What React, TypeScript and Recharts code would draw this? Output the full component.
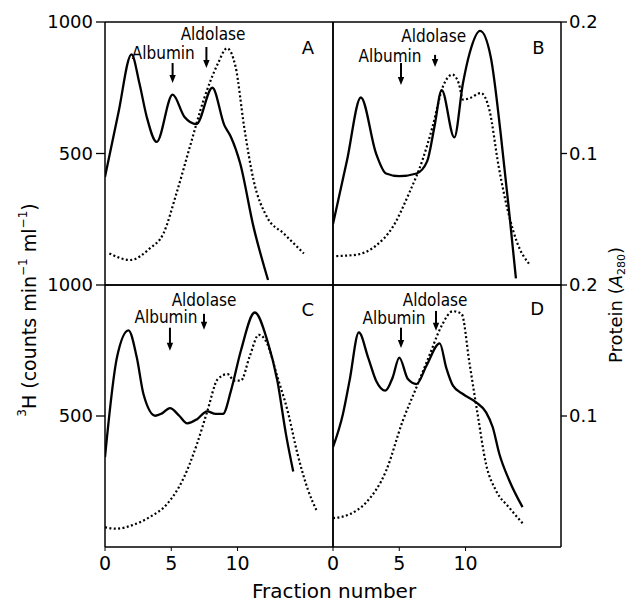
import React from 'react';
import { LineChart, Line, XAxis, YAxis, ReferenceLine, ReferenceDot } from 'recharts';

// ---- tick labels ----
const fractionTicks = [0, 5, 10];
const countTicks = [500, 1000];
const proteinTicks = [0.1, 0.2];

// ---- 3H counts (solid line, left axis) : [fraction, counts] ----
const countsA = [[0, 411], [1, 652], [2, 877], [2.6, 766], [3.15, 639], [3.9, 544], [5.1, 724], [6, 639], [6.9, 612], [8.1, 750], [9, 608], [9.5, 563], [10.2, 462], [11.2, 222], [12.3, 19]];
const countsB = [[0, 232], [1.05, 472], [2.1, 713], [3.25, 500], [4.0, 424], [5.0, 414], [6.3, 424], [7.1, 470], [7.65, 601], [8.2, 741], [9.15, 561], [9.8, 766], [10.3, 880], [11.1, 966], [11.9, 867], [12.65, 576], [13.3, 272], [13.8, 25]];
const countsC = [[0, 343], [0.9, 723], [1.77, 827], [2.4, 723], [2.9, 584], [3.8, 501], [4.3, 510], [4.9, 530], [5.6, 501], [6.2, 472], [6.95, 488], [7.7, 518], [8.35, 508], [8.9, 508], [9.5, 596], [10.25, 749], [11.3, 895], [12.25, 787], [13.0, 635], [13.65, 431], [14.2, 288]];
const countsD = [[0, 381], [0.75, 508], [1.25, 635], [1.95, 819], [2.65, 723], [3.25, 635], [3.95, 597], [4.5, 647], [5.0, 723], [5.65, 641], [6.3, 622], [7.05, 692], [8.05, 777], [8.55, 683], [9.05, 616], [9.8, 584], [10.8, 552], [11.55, 514], [12.05, 457], [12.55, 355], [13.3, 254], [14.3, 152]];

// ---- protein A280 (dotted line, right axis) : [fraction, absorbance] ----
const proteinA = [[0.33, 0.024], [1.9, 0.019], [3.4, 0.028], [4.4, 0.039], [5.4, 0.070], [6.4, 0.105], [7.45, 0.141], [8.5, 0.168], [9.2, 0.180], [9.85, 0.166], [10.5, 0.120], [11.2, 0.080], [12.2, 0.052], [13.5, 0.039], [15.0, 0.024]];
const proteinB = [[0.25, 0.022], [1.75, 0.023], [3.25, 0.030], [4.5, 0.044], [5.75, 0.070], [6.75, 0.095], [7.5, 0.120], [8.3, 0.151], [9.0, 0.160], [9.5, 0.153], [9.8, 0.141], [10.3, 0.142], [11.15, 0.146], [11.8, 0.133], [12.5, 0.090], [13.3, 0.052], [13.9, 0.032], [14.8, 0.016]];
const proteinC = [[0, 0.015], [0.9, 0.014], [2.15, 0.017], [3.4, 0.023], [4.7, 0.033], [5.95, 0.053], [6.95, 0.079], [7.7, 0.103], [8.5, 0.128], [9.25, 0.132], [9.75, 0.127], [10.25, 0.127], [10.9, 0.145], [11.6, 0.162], [12.25, 0.155], [13.0, 0.130], [13.8, 0.103], [14.5, 0.072], [15.3, 0.044], [16.0, 0.027]];
const proteinD = [[0, 0.022], [1.25, 0.025], [2.5, 0.034], [4.0, 0.058], [5.25, 0.096], [6.3, 0.122], [7.3, 0.147], [8.15, 0.168], [9.05, 0.180], [9.7, 0.178], [10.3, 0.140], [10.9, 0.102], [11.55, 0.063], [12.3, 0.043], [13.3, 0.030], [14.4, 0.017]];

// ---- marker annotations (arrow x, arrow top/bottom in counts, label x / baseline in counts) ----
const markersA = [
  { name: 'Albumin', x: 5.1, top: 844, bottom: 768, tx: 4.4, ty: 859 },
  { name: 'Aldolase', x: 7.65, top: 905, bottom: 825, tx: 8.15, ty: 932 },
];
const markersB = [
  { name: 'Albumin', x: 5.13, top: 844, bottom: 760, tx: 4.3, ty: 848 },
  { name: 'Aldolase', x: 7.7, top: 875, bottom: 829, tx: 7.6, ty: 924 },
];
const markersC = [
  { name: 'Albumin', x: 4.9, top: 837, bottom: 749, tx: 4.6, ty: 855 },
  { name: 'Aldolase', x: 7.47, top: 890, bottom: 829, tx: 7.47, ty: 920 },
];
const markersD = [
  { name: 'Albumin', x: 5.13, top: 837, bottom: 760, tx: 4.6, ty: 852 },
  { name: 'Aldolase', x: 7.77, top: 901, bottom: 825, tx: 7.7, ty: 920 },
];

const panelLetters = ['A', 'B', 'C', 'D'];
const letterPos = [[15.3, 878], [15.5, 878], [15.3, 882], [15.4, 885]];

const toPts = (arr: number[][]) => arr.map(([f, v]) => ({ f, v }));

const W = 630;
const H = 603;
const AXW = 40;
const AXH = 30;
const TICK_FONT = 'DejaVu Sans, sans-serif';
const ANN_FONT = 'DejaVu Sans Condensed, Liberation Sans Narrow, Liberation Sans, sans-serif';

const Arrow = (p: any) => {
  const { x1, y1, x2, y2 } = p;
  const head = 8;
  const hw = 3.2;
  return (
    <g>
      <line x1={x1} y1={y1} x2={x2} y2={y2 - head + 1} stroke="#000" strokeWidth={2} />
      <path d={`M${x2 - hw},${y2 - head} L${x2 + hw},${y2 - head} L${x2},${y2} Z`} fill="#000" />
    </g>
  );
};

const textShape = (text: string, size: number, font: string) => (p: any) => (
  <text x={p.cx} y={p.cy} textAnchor="middle" fontSize={size} fontFamily={font} fill="#000">
    {text}
  </text>
);

type PanelProps = {
  idx: number;
  left: number;
  right: number;
  top: number;
  bottom: number;
  counts: number[][];
  protein: number[][];
  markers: { name: string; x: number; top: number; bottom: number; tx: number; ty: number }[];
  showLeft: boolean;
  showRight: boolean;
  showX: boolean;
};

const Panel = (pp: PanelProps) => {
  const margin = {
    left: pp.left - AXW,
    right: W - pp.right - AXW,
    top: pp.top,
    bottom: H - pp.bottom - AXH,
  };
  const axisStroke = { stroke: '#000', strokeWidth: 1.5 };
  const tickStyle = { fill: '#000', fontSize: 18, fontFamily: TICK_FONT };
  return (
    <div style={{ position: 'absolute', left: 0, top: 0 }}>
      <LineChart width={W} height={H} margin={margin}>
        <XAxis
          dataKey="f"
          type="number"
          domain={[0, 17.2]}
          allowDataOverflow
          ticks={fractionTicks}
          height={AXH}
          axisLine={axisStroke}
          tickLine={pp.showX ? { stroke: '#000' } : false}
          tickSize={4}
          tickMargin={6}
          tick={pp.showX ? { ...tickStyle, fontSize: 19 } : false}
        />
        <YAxis
          yAxisId="left"
          orientation="left"
          domain={[0, 1000]}
          allowDataOverflow
          ticks={pp.showLeft ? countTicks : []}
          width={AXW}
          axisLine={axisStroke}
          tickLine={pp.showLeft ? { stroke: '#000', strokeWidth: 1.3 } : false}
          tickSize={9}
          tickMargin={3}
          tick={pp.showLeft ? tickStyle : false}
        />
        <YAxis
          yAxisId="right"
          orientation="right"
          domain={[0, 0.2]}
          allowDataOverflow
          ticks={pp.showRight ? proteinTicks : []}
          width={AXW}
          axisLine={axisStroke}
          tickLine={pp.showRight ? { stroke: '#000', strokeWidth: 1.3 } : false}
          tickSize={6}
          tickMargin={2}
          tick={pp.showRight ? tickStyle : false}
          tickFormatter={(v: number) => v.toFixed(1)}
        />
        <ReferenceLine yAxisId="left" y={1000} stroke="#000" strokeWidth={1.5} ifOverflow="visible" />
        <Line
          yAxisId="right"
          data={toPts(pp.protein)}
          dataKey="v"
          type="monotone"
          stroke="#000"
          strokeWidth={2.2}
          strokeDasharray="2 2.4"
          dot={false}
          activeDot={false}
          isAnimationActive={false}
        />
        <Line
          yAxisId="left"
          data={toPts(pp.counts)}
          dataKey="v"
          type="monotone"
          stroke="#000"
          strokeWidth={2.3}
          dot={false}
          activeDot={false}
          isAnimationActive={false}
        />
        {pp.markers.map((m) => (
          <ReferenceLine
            key={'arr' + m.name}
            yAxisId="left"
            segment={[{ x: m.x, y: m.top }, { x: m.x, y: m.bottom }]}
            shape={Arrow}
            ifOverflow="visible"
          />
        ))}
        {pp.markers.map((m) => (
          <ReferenceDot
            key={'txt' + m.name}
            yAxisId="left"
            x={m.tx}
            y={m.ty}
            ifOverflow="visible"
            shape={textShape(m.name, 17, ANN_FONT)}
          />
        ))}
        <ReferenceDot
          yAxisId="left"
          x={letterPos[pp.idx][0]}
          y={letterPos[pp.idx][1]}
          ifOverflow="visible"
          shape={textShape(panelLetters[pp.idx], 18, TICK_FONT)}
        />
      </LineChart>
    </div>
  );
};

export default function App() {
  return (
    <div style={{ position: 'absolute', left: 0, top: 0, width: W, height: H, background: '#fff' }}>
      <Panel idx={0} left={105} right={333} top={22} bottom={285} counts={countsA} protein={proteinA} markers={markersA} showLeft showRight={false} showX={false} />
      <Panel idx={1} left={333} right={561} top={22} bottom={285} counts={countsB} protein={proteinB} markers={markersB} showLeft={false} showRight showX={false} />
      <Panel idx={2} left={105} right={333} top={285} bottom={547} counts={countsC} protein={proteinC} markers={markersC} showLeft showRight={false} showX />
      <Panel idx={3} left={333} right={561} top={285} bottom={547} counts={countsD} protein={proteinD} markers={markersD} showLeft={false} showRight showX />
      <svg width={W} height={H} style={{ position: 'absolute', left: 0, top: 0, pointerEvents: 'none' }}>
        <text
          x={36}
          y={310}
          transform="rotate(-90 36 310)"
          textAnchor="middle"
          fontSize={19}
          fontFamily={TICK_FONT}
          fill="#000"
        >
          <tspan fontSize={12} dy={-10}>3</tspan>
          <tspan dy={10}>H (counts min</tspan>
          <tspan fontSize={12} dy={-9}>−1</tspan>
          <tspan dy={9}> ml</tspan>
          <tspan fontSize={12} dy={-9}>−1</tspan>
          <tspan dy={9}>)</tspan>
        </text>
        <text
          x={622}
          y={305}
          transform="rotate(-90 622 305)"
          textAnchor="middle"
          fontSize={18}
          fontFamily={TICK_FONT}
          fill="#000"
        >
          <tspan>Protein (</tspan>
          <tspan fontStyle="italic">A</tspan>
          <tspan fontSize={11} dy={3}>280</tspan>
          <tspan dy={-3}>)</tspan>
        </text>
        <text x={334} y={598} textAnchor="middle" fontSize={20} fontFamily={TICK_FONT} fill="#000">
          Fraction number
        </text>
      </svg>
    </div>
  );
}
